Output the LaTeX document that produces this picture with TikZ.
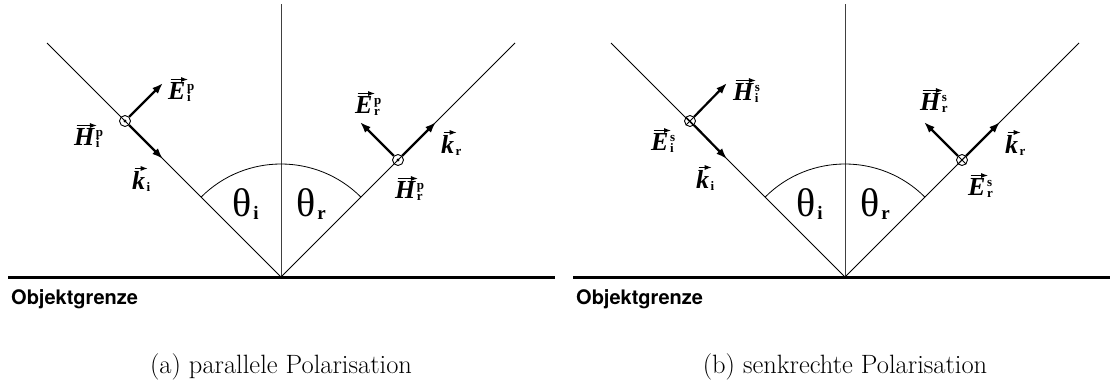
\documentclass[tikz,border=0pt]{standalone}
\usepackage{fontspec}
\newfontfamily\tnr{Liberation Serif}
\newfontfamily\helv{TeX Gyre Heros}
\usetikzlibrary{arrows.meta}
\newsavebox\vbx
\newlength\vlen
\newcommand\vecarrow[1]{\sbox\vbx{#1}\setlength\vlen{\wd\vbx}\addtolength\vlen{0pt}%
  \rlap{\usebox\vbx}\raisebox{\dimexpr\ht\vbx+2.5pt\relax}{\makebox[\wd\vbx][l]{\hspace{2pt}\tikz[baseline=0pt,x=1pt,y=1pt]\draw[line width=1pt,-{Latex[length=7pt,width=5pt]}] (0pt,0pt) -- (\vlen,0pt);}}}
\newcommand\vlab[3]{\tnr\bfseries\fontsize{26}{26}\selectfont\vecarrow{\itshape #1}\kern1.5pt\rlap{\raisebox{9pt}{\fontsize{13}{13}\selectfont #2}}\raisebox{-2.5pt}{\fontsize{13}{13}\selectfont #3}}
\newcommand\thlab[1]{\tnr\fontsize{40}{40}\selectfont θ\hspace{2pt}\raisebox{-3pt}{\fontsize{19}{19}\selectfont\bfseries #1}}
\tikzset{
  thinline/.style={line width=0.8pt},
  normline/.style={line width=0.9pt, black!75},
  ground/.style={line width=3pt},
  vec/.style={line width=2.2pt, -{Latex[length=11pt,width=8pt]}},
  pol/.style={circle, draw, line width=0.9pt, minimum size=11pt, inner sep=0pt},
  lab/.style={anchor=base west, inner sep=0pt},
  grenze/.style={anchor=base west, inner sep=0pt, font=\helv\bfseries\fontsize{20}{20}\selectfont},
  capt/.style={anchor=base, inner sep=0pt, font=\fontsize{26.5}{30}\selectfont}
}
\begin{document}
\begin{tikzpicture}[x=1pt,y=-1pt]
\useasboundingbox (0,0) rectangle (1110,389);
% ---------- panel (a)
\coordinate (aO) at (281,277);
\coordinate (aTop) at (281,4);
\coordinate (aIn) at (47,43);
\coordinate (aOut) at (515,43);
\coordinate (aGL) at (8,277);
\coordinate (aGR) at (555,277);
\draw[normline] (aO) -- (aTop);
\draw[thinline] (aIn) -- (aO) -- (aOut);
\draw[thinline] (aO) ++(135:113pt) arc[start angle=135, end angle=45, radius=113pt];
\draw[ground] (aGL) -- (aGR);
\node[pol] (aCi) at (125,121) {};
\fill (aCi.center) circle (1.6pt);
\coordinate (aEi) at (163,83);
\coordinate (aKi) at (163,159);
\draw[vec] (aCi) -- (aEi);
\draw[vec] (aCi) -- (aKi);
\node[pol] (aCr) at (398,160) {};
\fill (aCr.center) circle (1.6pt);
\coordinate (aEr) at (360,122);
\coordinate (aKr) at (436,122);
\draw[vec] (aCr) -- (aEr);
\draw[vec] (aCr) -- (aKr);
\node[lab] (aLEi) at (168,99) {\vlab{E}{p}{i}};
\node[lab] (aLHi) at (74,145) {\vlab{H}{p}{i}};
\node[lab] (aLKi) at (132,189) {\vlab{k}{}{i}};
\node[lab] (aLEr) at (355,113) {\vlab{E}{p}{r}};
\node[lab] (aLKr) at (441,153) {\vlab{k}{}{r}};
\node[lab] (aLHr) at (395,198) {\vlab{H}{p}{r}};
\node[lab] (aTi) at (232,216) {\thlab{i}};
\node[lab] (aTr) at (296,216) {\thlab{r}};
\node[grenze] (aG) at (11,304) {Objektgrenze};
\node[capt] (aCap) at (281,373) {(a) parallele Polarisation};
% ---------- panel (b)
\coordinate (bO) at (845,277);
\coordinate (bTop) at (845,4);
\coordinate (bIn) at (611,43);
\coordinate (bOut) at (1079,43);
\coordinate (bGL) at (573,277);
\coordinate (bGR) at (1110,277);
\draw[normline] (bO) -- (bTop);
\draw[thinline] (bIn) -- (bO) -- (bOut);
\draw[thinline] (bO) ++(135:113pt) arc[start angle=135, end angle=45, radius=113pt];
\draw[ground] (bGL) -- (bGR);
\node[pol] (bCi) at (690,121) {};
\draw[line width=0.9pt] (bCi.north east) -- (bCi.south west) (bCi.north west) -- (bCi.south east);
\coordinate (bHi) at (727,83);
\coordinate (bKi) at (727,159);
\draw[vec] (bCi) -- (bHi);
\draw[vec] (bCi) -- (bKi);
\node[pol] (bCr) at (962,160) {};
\draw[line width=0.9pt] (bCr.north east) -- (bCr.south west) (bCr.north west) -- (bCr.south east);
\coordinate (bHr) at (924,122);
\coordinate (bKr) at (1000,122);
\draw[vec] (bCr) -- (bHr);
\draw[vec] (bCr) -- (bKr);
\node[lab] (bLHi) at (733,100) {\vlab{H}{s}{i}};
\node[lab] (bLEi) at (651,150) {\vlab{E}{s}{i}};
\node[lab] (bLKi) at (696,188) {\vlab{k}{}{i}};
\node[lab] (bLHr) at (920,110) {\vlab{H}{s}{r}};
\node[lab] (bLKr) at (1005,153) {\vlab{k}{}{r}};
\node[lab] (bLEr) at (968,195) {\vlab{E}{s}{r}};
\node[lab] (bTi) at (796,216) {\thlab{i}};
\node[lab] (bTr) at (860,216) {\thlab{r}};
\node[grenze] (bG) at (576,304) {Objektgrenze};
\node[capt] (bCap) at (845,373) {(b) senkrechte Polarisation};
\end{tikzpicture}
\end{document}
